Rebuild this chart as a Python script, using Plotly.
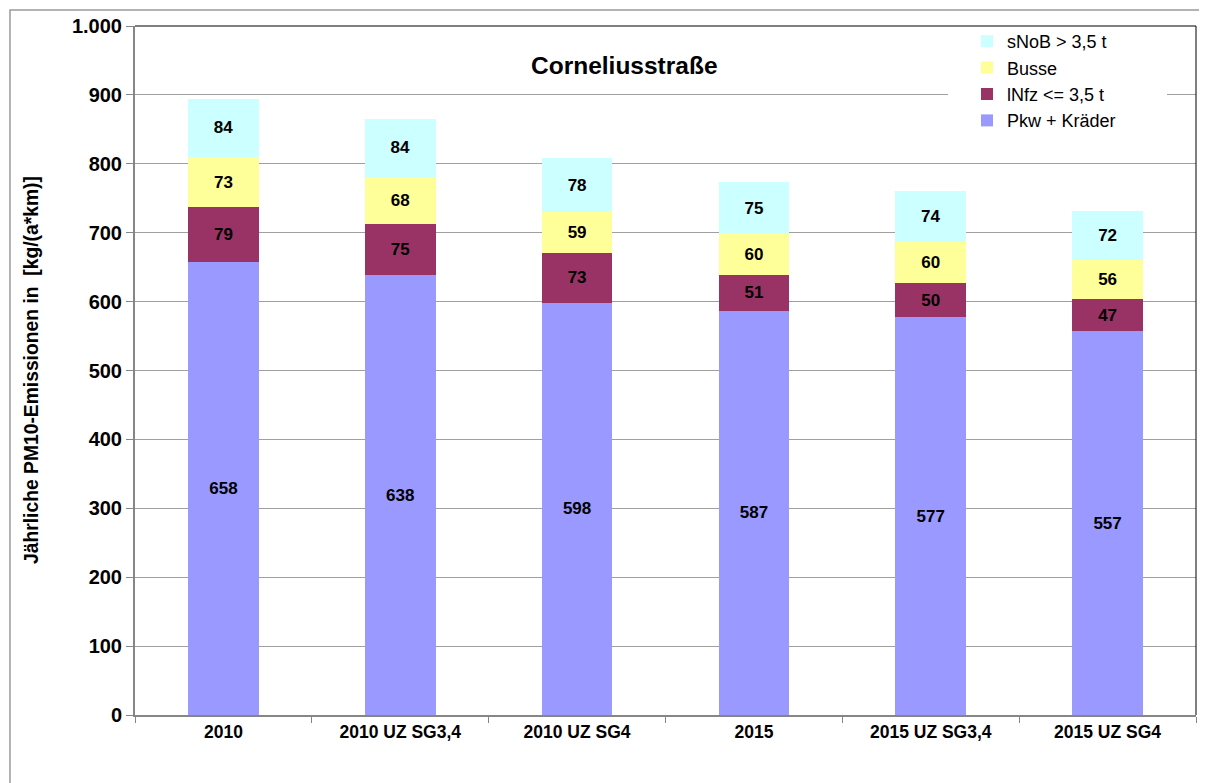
import plotly.graph_objects as go

categories = ["2010", "2010 UZ SG3,4", "2010 UZ SG4", "2015", "2015 UZ SG3,4", "2015 UZ SG4"]
pkw = [658, 638, 598, 587, 577, 557]
lnfz = [79, 75, 73, 51, 50, 47]
busse = [73, 68, 59, 60, 60, 56]
snob = [84, 84, 78, 75, 74, 72]
series_names = ["Pkw + Kräder", "lNfz <= 3,5 t", "Busse", "sNoB > 3,5 t"]
series_colors = ["#9999FF", "#993366", "#FFFF99", "#CCFFFF"]
ytick_vals = [0, 100, 200, 300, 400, 500, 600, 700, 800, 900, 1000]
ytick_text = ["0", "100", "200", "300", "400", "500", "600", "700", "800", "900", "1.000"]

FONT = "Liberation Sans, Arial, sans-serif"

# page body has an 8px default margin; work in screen pixels and convert
OFF = 8
FW, FH = 1207 - OFF, 783 - OFF
L, R, T, B = 135, 1196, 26, 715  # plot area in screen pixels
W, H = R - L, B - T

def px(x):
    return (x - L) / W

def py(y):
    return (B - y) / H

fig = go.Figure()
for name, vals, col in zip(series_names, [pkw, lnfz, busse, snob], series_colors):
    fig.add_trace(go.Bar(
        x=categories, y=vals, name=name,
        marker=dict(color=col, line=dict(width=0)),
        text=[f"<b>{v}</b>" for v in vals],
        textposition="inside", insidetextanchor="middle",
        textangle=0, constraintext="none",
        textfont=dict(family=FONT, size=17, color="black"),
    ))

fig.update_layout(
    width=FW, height=FH,
    margin=dict(l=L - OFF, r=FW - (R - OFF), t=T - OFF, b=FH - (B - OFF), autoexpand=False),
    barmode="stack", bargap=0.6,
    plot_bgcolor="white", paper_bgcolor="white",
    font=dict(family=FONT, color="black"),
    showlegend=True,
    legend=dict(
        traceorder="reversed",
        x=px(967), y=py(23), xanchor="left", yanchor="top",
        bgcolor="rgba(0,0,0,0)", borderwidth=0,
        font=dict(family=FONT, size=18, color="black"),
        tracegroupgap=0, itemwidth=30,
    ),
    xaxis=dict(
        type="category", showgrid=False,
        showline=True, linecolor="#868686", linewidth=2,
        ticks="outside", tickson="boundaries", ticklen=6, tickcolor="#868686",
        tickfont=dict(family=FONT, size=17.5, color="black", weight="bold"),
    ),
    yaxis=dict(
        range=[0, 1000], tickvals=ytick_vals, ticktext=ytick_text,
        showgrid=True, gridcolor="#A0A0A0", gridwidth=1,
        showline=True, linecolor="#868686", linewidth=2,
        ticks="outside", ticklen=7, tickcolor="#868686",
        tickfont=dict(family=FONT, size=20, color="black", weight="bold"),
        zeroline=False,
    ),
    annotations=[
        dict(text="<b>Corneliusstraße</b>", x=px(624), y=py(50), xref="paper", yref="paper",
             showarrow=False, font=dict(family=FONT, size=24.5, color="black")),
        dict(text="<b>Jährliche PM10-Emissionen in  [kg/(a*km)]</b>", x=px(31), y=py(370),
             xref="paper", yref="paper", textangle=-90, showarrow=False,
             xanchor="center", yanchor="middle",
             font=dict(family=FONT, size=19.3, color="black")),
    ],
    shapes=[
        # white legend area covering gridline
        dict(type="rect", xref="paper", yref="paper", x0=px(948), x1=px(1167), y0=py(132), y1=py(28),
             fillcolor="white", line=dict(width=0), layer="above"),
        # plot area top and right border
        dict(type="line", xref="paper", yref="paper", x0=0, x1=1, y0=1, y1=1,
             line=dict(color="black", width=1)),
        dict(type="line", xref="paper", yref="paper", x0=1, x1=1, y0=0, y1=1,
             line=dict(color="black", width=1)),
        # outer chart border
        dict(type="rect", xref="paper", yref="paper", x0=px(10), x1=px(1215), y0=py(790), y1=py(10),
             line=dict(color="#9A9A9A", width=1.5), fillcolor="rgba(0,0,0,0)"),
    ],
)

fig.write_html("out.html")
